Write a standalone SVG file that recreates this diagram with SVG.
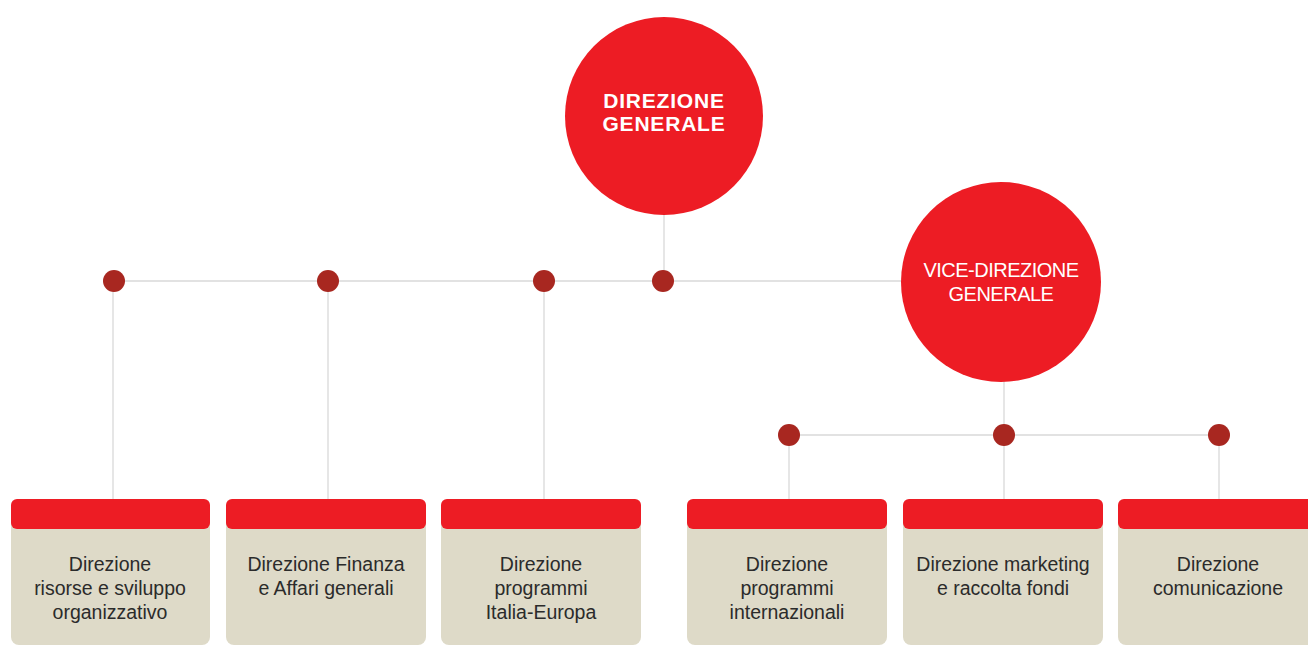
<svg xmlns="http://www.w3.org/2000/svg" width="1308" height="646" viewBox="0 0 1308 646">
<style>
.line{stroke:#d9d9d9;stroke-width:1.3;fill:none}
.dot{fill:#a82720}
.big{fill:#ed1c24}
.hdr{fill:#ed1c24}
.body{fill:#dedac8}
.ttl{font-family:"Liberation Sans",Arial,sans-serif;fill:#ffffff;text-anchor:middle}
.lbl{font-family:"Liberation Sans",Arial,sans-serif;font-size:19.5px;fill:#2b2b2b;text-anchor:middle}
</style>
<rect width="1308" height="646" fill="#ffffff"/>
<g id="connectors">
<line class="line" x1="664" y1="214" x2="664" y2="281"/>
<line class="line" x1="113" y1="281" x2="905" y2="281"/>
<line class="line" x1="113" y1="281" x2="113" y2="499"/>
<line class="line" x1="328" y1="281" x2="328" y2="499"/>
<line class="line" x1="544" y1="281" x2="544" y2="499"/>
<line class="line" x1="1004" y1="380" x2="1004" y2="435"/>
<line class="line" x1="789" y1="435" x2="1219" y2="435"/>
<line class="line" x1="789" y1="435" x2="789" y2="499"/>
<line class="line" x1="1004" y1="435" x2="1004" y2="499"/>
<line class="line" x1="1219" y1="435" x2="1219" y2="499"/>
<circle class="dot" cx="114" cy="281" r="11"/>
<circle class="dot" cx="328" cy="281" r="11"/>
<circle class="dot" cx="544" cy="281" r="11"/>
<circle class="dot" cx="663" cy="281" r="11"/>
<circle class="dot" cx="789" cy="435" r="11"/>
<circle class="dot" cx="1004" cy="435" r="11"/>
<circle class="dot" cx="1219" cy="435" r="11"/>
</g>
<g id="direzione-generale">
<circle class="big" cx="664" cy="116" r="99"/>
<text class="ttl" x="664" y="108" font-size="21" font-weight="bold" letter-spacing="0.8">DIREZIONE</text>
<text class="ttl" x="664" y="131" font-size="21" font-weight="bold" letter-spacing="0.8">GENERALE</text>
</g>
<g id="vice-direzione-generale">
<circle class="big" cx="1001" cy="282" r="100"/>
<text class="ttl" x="1001" y="277" font-size="20" letter-spacing="-0.5">VICE-DIREZIONE</text>
<text class="ttl" x="1001" y="301" font-size="20" letter-spacing="-0.5">GENERALE</text>
</g>
<g id="box-risorse">
<rect class="body" x="11" y="505" width="199" height="140" rx="8"/>
<rect class="hdr" x="11" y="499" width="199" height="30" rx="6"/>
<text class="lbl" x="110" y="571">Direzione</text>
<text class="lbl" x="110" y="595">risorse e sviluppo</text>
<text class="lbl" x="110" y="619">organizzativo</text>
</g>
<g id="box-finanza">
<rect class="body" x="226" y="505" width="200" height="140" rx="8"/>
<rect class="hdr" x="226" y="499" width="200" height="30" rx="6"/>
<text class="lbl" x="326" y="571">Direzione Finanza</text>
<text class="lbl" x="326" y="595">e Affari generali</text>
</g>
<g id="box-italia-europa">
<rect class="body" x="441" y="505" width="200" height="140" rx="8"/>
<rect class="hdr" x="441" y="499" width="200" height="30" rx="6"/>
<text class="lbl" x="541" y="571">Direzione</text>
<text class="lbl" x="541" y="595">programmi</text>
<text class="lbl" x="541" y="619">Italia-Europa</text>
</g>
<g id="box-internazionali">
<rect class="body" x="687" y="505" width="200" height="140" rx="8"/>
<rect class="hdr" x="687" y="499" width="200" height="30" rx="6"/>
<text class="lbl" x="787" y="571">Direzione</text>
<text class="lbl" x="787" y="595">programmi</text>
<text class="lbl" x="787" y="619">internazionali</text>
</g>
<g id="box-marketing">
<rect class="body" x="903" y="505" width="200" height="140" rx="8"/>
<rect class="hdr" x="903" y="499" width="200" height="30" rx="6"/>
<text class="lbl" x="1003" y="571">Direzione marketing</text>
<text class="lbl" x="1003" y="595">e raccolta fondi</text>
</g>
<g id="box-comunicazione">
<rect class="body" x="1118" y="505" width="200" height="140" rx="8"/>
<rect class="hdr" x="1118" y="499" width="200" height="30" rx="6"/>
<text class="lbl" x="1218" y="571">Direzione</text>
<text class="lbl" x="1218" y="595">comunicazione</text>
</g>
</svg>
